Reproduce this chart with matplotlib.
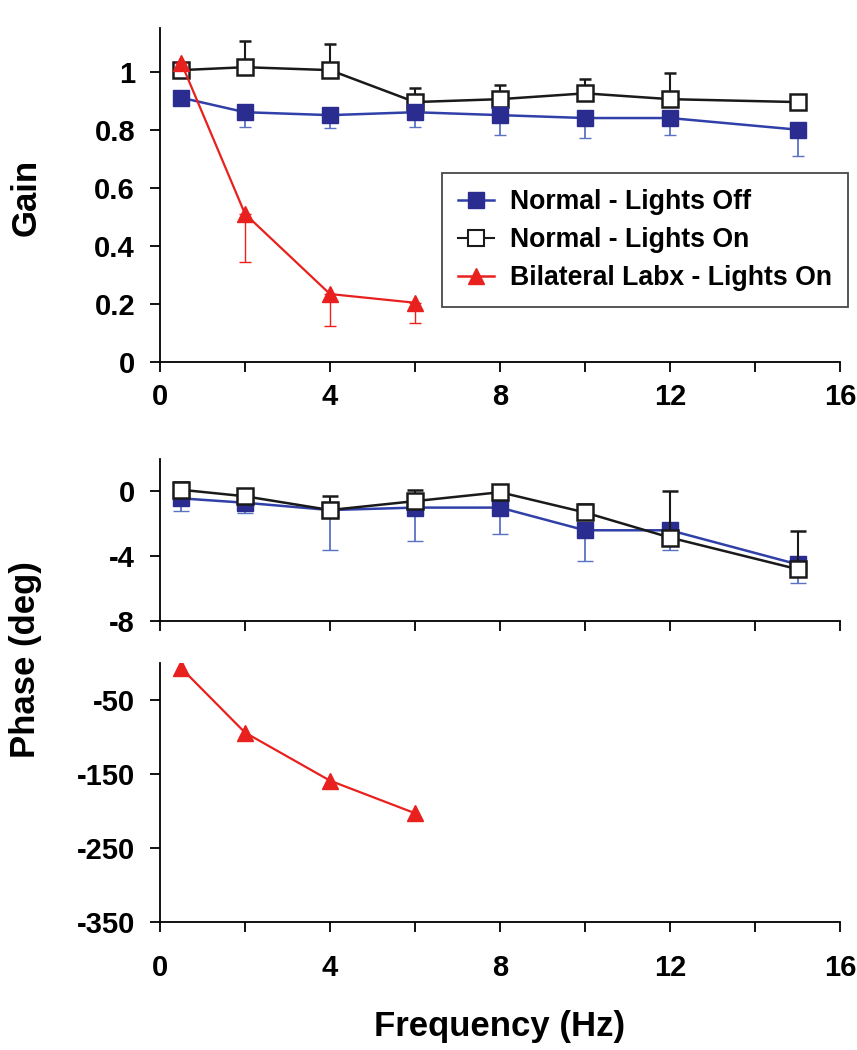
import matplotlib
matplotlib.use("Agg")
import matplotlib.pyplot as plt
from matplotlib.lines import Line2D

plt.rcParams['font.family'] = ['Liberation Sans', 'DejaVu Sans']
plt.rcParams['font.weight'] = 'bold'
plt.rcParams['axes.unicode_minus'] = False

# ---------------- data ----------------
freq = [0.5, 2, 4, 6, 8, 10, 12, 15]
freq_labx = [0.5, 2, 4, 6]

gain_off = [0.91, 0.86, 0.85, 0.86, 0.85, 0.84, 0.84, 0.80]
gain_off_err = [0.0, 0.05, 0.045, 0.05, 0.07, 0.07, 0.06, 0.09]
gain_on = [1.005, 1.015, 1.005, 0.895, 0.905, 0.925, 0.905, 0.895]
gain_on_err = [0.0, 0.09, 0.09, 0.05, 0.05, 0.05, 0.09, 0.025]
gain_labx = [1.03, 0.51, 0.234, 0.204]
gain_labx_err = [0.0, 0.165, 0.11, 0.07]

phase_off = [-0.43, -0.7, -1.15, -1.0, -1.0, -2.4, -2.4, -4.5]
phase_off_err = [0.77, 0.65, 2.45, 2.08, 1.6, 1.88, 1.2, 1.18]
phase_on = [0.1, -0.3, -1.15, -0.6, -0.05, -1.3, -2.85, -4.8]
phase_on_err = [0.45, 0.2, 0.87, 0.66, 0.0, 0.55, 2.85, 2.36]
phase_labx = [-7, -94, -159, -203]

xticks = [0, 2, 4, 6, 8, 10, 12, 14, 16]
xticklabels = ['0', '', '4', '', '8', '', '12', '', '16']
gain_ticks = [0, 0.2, 0.4, 0.6, 0.8, 1]
gain_ticklabels = ['0', '0.2', '0.4', '0.6', '0.8', '1']
phase_top_ticks = [0, -4, -8]
phase_bot_ticks = [-50, -150, -250, -350]

legend_labels = ['Normal - Lights Off', 'Normal - Lights On', 'Bilateral Labx - Lights On']

# ---------------- style ----------------
BLUE = '#2a2d8f'
BLUE_LINE = '#3040a8'
BLUE_ERR = '#5a72c4'
RED = '#e8201e'
BLACK = '#1a1a1a'

W, H = 857, 1050
fig = plt.figure(figsize=(W / 100, H / 100), dpi=100)

def ax_rect(x0, x1, ytop, ybot):
    return [x0 / W, 1 - ybot / H, (x1 - x0) / W, (ybot - ytop) / H]

ax1 = fig.add_axes(ax_rect(160, 840, 28, 362))
ax2 = fig.add_axes(ax_rect(160, 840, 459, 621))
ax3 = fig.add_axes(ax_rect(160, 840, 663, 922))

TICK_FS = 21
LABEL_FS = 25

for ax in (ax1, ax2, ax3):
    ax.spines['top'].set_visible(False)
    ax.spines['right'].set_visible(False)
    ax.spines['left'].set_linewidth(1.3)
    ax.spines['bottom'].set_linewidth(1.3)
    ax.set_xlim(0, 16)
    ax.set_xticks(xticks)
    ax.tick_params(direction='out', length=7, width=1.3, labelsize=TICK_FS)
    ax.tick_params(axis='y', pad=11)
    ax.tick_params(axis='x', pad=8)

zeros8 = [0] * 8
zeros4 = [0] * 4

# ---- Gain panel ----
ax1.errorbar(freq, gain_on, yerr=[zeros8, gain_on_err], color=BLACK, lw=1.8,
             marker='s', ms=11, mfc='white', mec=BLACK, mew=1.8,
             ecolor=BLACK, elinewidth=1.5, capsize=4, capthick=1.5, zorder=3)
ax1.errorbar(freq, gain_off, yerr=[gain_off_err, zeros8], color=BLUE_LINE, lw=1.8,
             marker='s', ms=11, mfc=BLUE, mec=BLUE, mew=1.0,
             ecolor=BLUE_ERR, elinewidth=1.3, capsize=4, capthick=1.3, zorder=4)
ax1.errorbar(freq_labx, gain_labx, yerr=[gain_labx_err, zeros4], color=RED, lw=1.6,
             marker='^', ms=12, mfc=RED, mec=RED,
             ecolor=RED, elinewidth=1.0, capsize=4, capthick=1.0, zorder=5)
ax1.set_ylim(0, 1.15)
ax1.set_yticks(gain_ticks)
ax1.set_yticklabels(gain_ticklabels)
ax1.set_xticklabels(xticklabels)

handles = [
    Line2D([], [], color=BLUE_LINE, lw=1.8, marker='s', ms=11, mfc=BLUE, mec=BLUE),
    Line2D([], [], color=BLACK, lw=1.5, marker='s', ms=11, mfc='white', mec=BLACK, mew=1.5),
    Line2D([], [], color=RED, lw=1.8, marker='^', ms=12, mfc=RED, mec=RED),
]
leg = ax1.legend(handles, legend_labels, loc='lower left', bbox_to_anchor=(0.4147, 0.1647),
                 fontsize=19.2, frameon=True, fancybox=False, edgecolor=BLACK,
                 handlelength=1.35, handletextpad=0.6, borderpad=0.6, labelspacing=0.45,
                 borderaxespad=0)
leg.get_frame().set_linewidth(1.3)
for t in leg.get_texts():
    t.set_fontweight('bold')

# ---- Phase (normal) panel ----
ax2.errorbar(freq, phase_off, yerr=[phase_off_err, zeros8], color=BLUE_LINE, lw=1.8,
             marker='s', ms=11, mfc=BLUE, mec=BLUE, mew=1.0,
             ecolor=BLUE_ERR, elinewidth=1.3, capsize=6, capthick=1.3, zorder=3)
ax2.errorbar(freq, phase_on, yerr=[zeros8, phase_on_err], color=BLACK, lw=1.8,
             marker='s', ms=11, mfc='white', mec=BLACK, mew=1.8,
             ecolor=BLACK, elinewidth=1.5, capsize=6, capthick=1.5, zorder=4)
ax2.set_ylim(-8, 2)
ax2.set_yticks(phase_top_ticks)
ax2.set_xticklabels([])

# ---- Phase (labx) panel ----
ax3.plot(freq_labx, phase_labx, color=RED, lw=1.6, marker='^', ms=12, mfc=RED, mec=RED)
ax3.set_ylim(-350, 0)
ax3.set_yticks(phase_bot_ticks)
ax3.set_xticklabels(xticklabels)
ax3.tick_params(axis='x', pad=16)
ax3.set_xlabel('Frequency (Hz)', fontsize=LABEL_FS, fontweight='bold', labelpad=20)

fig.text(26 / W, 1 - 197 / H, 'Gain', rotation=90, fontsize=LABEL_FS,
         fontweight='bold', ha='center', va='center')
fig.text(26 / W, 1 - 660 / H, 'Phase (deg)', rotation=90, fontsize=LABEL_FS,
         fontweight='bold', ha='center', va='center')

fig.savefig('out.png', dpi=100)
